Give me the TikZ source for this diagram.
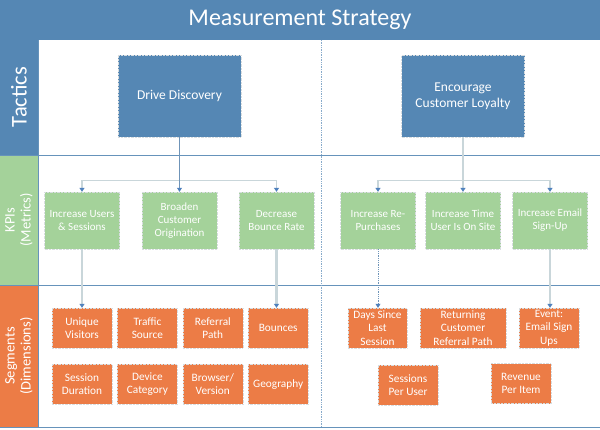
\documentclass[tikz,border=0pt]{standalone}
\usepackage{fontspec}
\setmainfont{Carlito}
\usepackage{tikz}
\usetikzlibrary{calc,arrows.meta,positioning}
\definecolor{strat_blue}{HTML}{5587B4}
\definecolor{kpi_green}{HTML}{A4D29A}
\definecolor{seg_orange}{HTML}{EC7C46}
\definecolor{line_grey}{HTML}{C9D6DA}
\definecolor{line_blue}{HTML}{6F94B8}
\definecolor{tip_blue}{HTML}{4F81BD}
\definecolor{box_edge}{HTML}{D8DDE0}
\tikzset{
band/.style={rectangle, draw=none, text=white, anchor=center},
tactic_box/.style={rectangle, fill=strat_blue, draw=box_edge, densely dotted, text=white, align=center, minimum width=123, minimum height=82, font=\fontsize{13.5}{16}\selectfont},
kpi_box/.style={rectangle, fill=kpi_green, draw=box_edge, densely dotted, text=white, align=center, minimum width=75, minimum height=57, font=\fontsize{11}{13}\selectfont},
seg_box/.style={rectangle, fill=seg_orange, draw=box_edge, densely dotted, text=white, align=center, minimum width=60, minimum height=40, inner sep=1pt, font=\fontsize{11.3}{13.3}\selectfont},
row_rule/.style={draw=strat_blue!90, line width=0.9},
col_rule/.style={draw=strat_blue!70, densely dotted, line width=0.7},
thin_link/.style={draw=line_blue, line width=0.8},
grey_link/.style={draw=line_grey, line width=1.2},
thick_link/.style={draw=line_grey, line width=2.2},
dot_link/.style={draw=line_blue, densely dotted, line width=0.8},
tip/.style={-{Triangle[length=4pt,width=5pt,color=tip_blue,fill=tip_blue]}}
}

\begin{document}
\begin{tikzpicture}[x=1pt,y=-1pt]
    \useasboundingbox (0,0) rectangle (600,429);
    % bands
    \fill[strat_blue] (0,0) rectangle (600,40);
    \fill[strat_blue] (0,40) rectangle (38,155);
    \fill[kpi_green] (0,155) rectangle (38,285);
    \fill[seg_orange] (0,285) rectangle (38,427);
    \draw[row_rule] (0,155) -- (600,155);
    \draw[row_rule] (0,285) -- (600,285);
    \draw[row_rule] (0,427) -- (600,427);
    \draw[row_rule] (38,40) -- (38,427);
    \draw[col_rule] (321,40) -- (321,427);
    \node[band, font=\fontsize{24}{28}\selectfont] (title) at (300,20) {Measurement Strategy};
    \node[band, rotate=90, font=\fontsize{22.5}{26}\selectfont] (tactics) at (19,97) {Tactics};
    \node[band, rotate=90, align=center, font=\fontsize{14.5}{16}\selectfont] (kpis) at (19,220) {KPIs\\(Metrics)};
    \node[band, rotate=90, align=center, font=\fontsize{14.5}{16}\selectfont] (segments) at (19,356) {Segments\\(Dimensions)};

    % tactics
    \node[tactic_box] (t_1) at (179.5,96) {Drive Discovery};
    \node[tactic_box] (t_2) at (463,96) {Encourage\\Customer Loyalty};

    % kpis
    \node[kpi_box] (k_1) at (82,220.5) {Increase Users\\\& Sessions};
    \node[kpi_box] (k_2) at (179.5,220.5) {Broaden\\Customer\\Origination};
    \node[kpi_box] (k_3) at (276.5,220.5) {Decrease\\Bounce Rate};
    \node[kpi_box] (k_4) at (378,220.5) {Increase Re-\\Purchases};
    \node[kpi_box] (k_5) at (463,220.5) {Increase Time\\User Is On Site};
    \node[kpi_box] (k_6) at (550,220.5) {Increase Email\\Sign-Up};

    % segments
    \node[seg_box] (s_1) at (82,328) {Unique\\Visitors};
    \node[seg_box] (s_2) [right=5pt of s_1] {Traffic\\Source};
    \node[seg_box] (s_3) [right=5pt of s_2] {Referral\\Path};
    \node[seg_box] (s_4) [right=5pt of s_3] {Bounces};
    \node[seg_box] (s_5) [below=16pt of s_1] {Session\\Duration};
    \node[seg_box] (s_6) [right=5pt of s_5] {Device\\Category};
    \node[seg_box] (s_7) [right=5pt of s_6] {Browser/\\Version};
    \node[seg_box] (s_8) [right=5pt of s_7] {Geography};
    \node[seg_box, minimum width=59] (s_9) at (377.5,328) {Days Since\\Last\\Session};
    \node[seg_box, minimum width=86] (s_10) at (463,328) {Returning\\Customer\\Referral Path};
    \node[seg_box] (s_11) at (549,328) {Event:\\Email Sign\\Ups};
    \node[seg_box] (s_12) at (408,385) {Sessions\\Per User};
    \node[seg_box] (s_13) at (521,383.5) {Revenue\\Per Item};

    % connectors
    \coordinate (split_1) at ($(t_1.south)+(0,43)$);
    \coordinate (split_2) at ($(t_2.south)+(0,43)$);
    \draw[thin_link] (t_1.south) -- (split_1);
    \draw[grey_link, tip] (split_1) -| (k_1.north);
    \draw[thin_link, tip] (split_1) -- (k_2.north);
    \draw[grey_link, tip] (split_1) -| (k_3.north);
    \draw[thick_link] (t_2.south) -- (split_2);
    \draw[grey_link, tip] (split_2) -| (k_4.north);
    \draw[grey_link, tip] (split_2) -- (k_5.north);
    \draw[grey_link, tip] (split_2) -| (k_6.north);
    \draw[grey_link, tip] (k_1.south) -- (k_1.south |- s_1.north);
    \draw[thick_link, tip] (k_3.south) -- (k_3.south |- s_4.north);
    \draw[dot_link, tip] (k_4.south) -- (k_4.south |- s_9.north);
    \draw[thick_link, tip] (k_6.south) -- (k_6.south |- s_11.north);
\end{tikzpicture}
\end{document}
